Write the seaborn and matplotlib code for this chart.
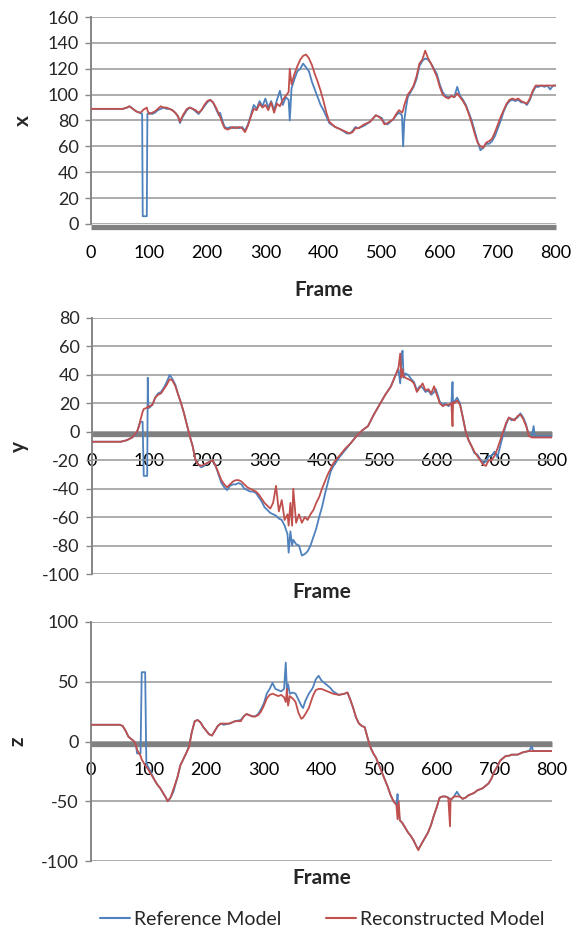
import matplotlib
matplotlib.use("Agg")
import matplotlib.pyplot as plt
import matplotlib.transforms as mtransforms
from matplotlib.lines import Line2D
import numpy as np
import pandas as pd
import seaborn as sns

# ---- data ----
series_names = ["Reference Model", "Reconstructed Model"]
series_colors = ["#4F81BD", "#C0504D"]

# x coordinate
frames_x = [0, 20, 40, 55, 62, 66, 72, 78, 84, 88,
            89, 96, 97, 100, 105, 110, 115, 120, 125, 130,
            135, 140, 145, 150, 153, 158, 165, 170, 175, 180,
            185, 190, 195, 200, 205, 210, 215, 220, 222, 226,
            230, 235, 240, 245, 250, 255, 260, 265, 270, 275,
            280, 285, 290, 295, 300, 305, 310, 315, 320, 325,
            330, 335, 340, 342, 345, 350, 355, 360, 365, 370,
            375, 380, 385, 390, 395, 400, 405, 410, 420, 430,
            440, 445, 450, 455, 460, 470, 480, 490, 495, 500,
            505, 510, 520, 525, 530, 535, 537, 539, 542, 545,
            550, 555, 560, 565, 570, 575, 580, 585, 590, 595,
            600, 605, 610, 615, 620, 625, 630, 635, 640, 645,
            650, 655, 660, 665, 670, 675, 680, 685, 690, 695,
            700, 705, 710, 715, 720, 725, 730, 735, 740, 745,
            750, 755, 760, 765, 770, 775, 780, 785, 790, 795,
            800]
ref_x = [89, 89, 89, 89, 90, 91, 89, 87, 86, 85,
         6, 6, 85, 86, 85, 86, 88, 89, 90, 89,
         89, 88, 86, 83, 78, 83, 88, 90, 89, 87,
         85, 88, 91, 94, 96, 94, 89, 84, 86, 80,
         75, 74, 75, 74, 75, 74, 75, 72, 77, 84,
         92, 89, 95, 91, 97, 90, 95, 88, 96, 103,
         92, 98, 96, 80, 105, 112, 118, 120, 124, 121,
         118, 110, 104, 98, 92, 88, 83, 78, 75, 73,
         70, 70, 72, 75, 74, 76, 79, 84, 83, 82,
         78, 77, 81, 84, 86, 84, 60, 80, 90, 98,
         102, 106, 112, 122, 126, 128, 127, 124, 120, 116,
         108, 102, 99, 98, 99, 98, 106, 99, 96, 92,
         86, 80, 72, 64, 57, 59, 62, 62, 64, 68,
         74, 80, 87, 92, 95, 96, 95, 96, 94, 94,
         92, 96, 102, 106, 106, 107, 106, 107, 104, 107,
         107]
rec_x = [89, 89, 89, 89, 90, 91, 89, 87, 86, 87,
         88, 90, 88, 85, 86, 87, 89, 91, 90, 90,
         89, 88, 86, 83, 79, 84, 89, 90, 89, 88,
         86, 88, 92, 95, 96, 94, 90, 85, 83, 78,
         74, 73, 74, 75, 74, 75, 74, 71, 76, 83,
         89, 88, 93, 90, 92, 88, 94, 86, 93, 91,
         96, 99, 102, 120, 108, 116, 122, 127, 130, 131,
         128, 123, 116, 110, 103, 95, 86, 79, 75, 73,
         71, 70, 71, 74, 74, 77, 79, 84, 83, 81,
         77, 78, 81, 85, 88, 86, 88, 92, 96, 100,
         103, 107, 114, 124, 127, 134, 128, 124, 119, 114,
         106, 100, 98, 97, 99, 98, 101, 98, 95, 91,
         85, 78, 70, 63, 60, 59, 63, 64, 66, 71,
         77, 83, 88, 93, 96, 97, 96, 97, 95, 94,
         93, 97, 103, 107, 107, 107, 107, 107, 107, 107,
         107]

# y coordinate
frames_y = [0, 20, 40, 50, 60, 70, 78, 82, 84, 88,
            90, 96, 97, 98, 100, 105, 110, 115, 120, 125,
            130, 135, 140, 145, 150, 155, 160, 165, 170, 175,
            180, 185, 190, 195, 200, 205, 210, 215, 220, 225,
            230, 235, 240, 245, 250, 255, 260, 265, 270, 275,
            280, 285, 290, 295, 300, 305, 310, 315, 320, 325,
            330, 335, 340, 342, 345, 348, 350, 355, 360, 365,
            370, 375, 380, 385, 390, 395, 400, 405, 410, 415,
            420, 430, 440, 450, 460, 470, 480, 490, 500, 510,
            520, 528, 533, 536, 538, 540, 542, 545, 550, 555,
            560, 565, 570, 575, 580, 585, 590, 595, 598, 605,
            610, 615, 620, 625, 627, 628, 630, 635, 640, 645,
            650, 655, 660, 665, 670, 675, 680, 685, 690, 695,
            700, 705, 710, 715, 720, 725, 730, 735, 740, 745,
            750, 755, 760, 765, 768, 770, 780, 790, 800]
ref_y = [-7, -7, -7, -7, -6, -4, -1, 5, 7, 7,
         -31, -31, 38, 17, 17, 19, 24, 27, 28, 31,
         35, 40, 37, 33, 26, 20, 13, 5, -3, -10,
         -20, -23, -25, -24, -22, -21, -20, -24, -30, -36,
         -39, -41, -38, -37, -37, -36, -37, -40, -41, -42,
         -42, -43, -46, -49, -53, -55, -57, -58, -59, -61,
         -62, -66, -72, -85, -70, -80, -76, -79, -80, -87,
         -86, -84, -80, -74, -68, -60, -53, -44, -36, -28,
         -24, -18, -13, -8, -3, 1, 4, 12, 19, 26,
         32, 40, 44, 34, 50, 57, 38, 41, 40, 37,
         35, 29, 32, 31, 28, 29, 26, 28, 30, 21,
         19, 20, 18, 20, 35, 20, 21, 24, 20, 10,
         0, -6, -10, -15, -16, -19, -22, -21, -17, -17,
         -14, -18, -10, -2, 5, 10, 8, 9, 10, 13,
         10, 5, -3, -3, 4, -3, -3, -3, -3]
rec_y = [-7, -7, -7, -7, -6, -4, 0, 4, 8, 14,
         16, 17, 18, 17, 18, 19, 24, 26, 27, 30,
         33, 37, 36, 32, 26, 20, 13, 5, -3, -10,
         -20, -23, -24, -23, -22, -21, -20, -24, -29, -34,
         -37, -39, -37, -35, -34, -34, -35, -37, -39, -40,
         -41, -42, -44, -47, -50, -52, -54, -50, -38, -56,
         -48, -62, -58, -66, -50, -66, -40, -64, -58, -64,
         -60, -62, -58, -55, -50, -46, -40, -35, -30, -26,
         -22, -17, -12, -8, -3, 1, 4, 12, 19, 26,
         32, 40, 45, 55, 38, 44, 39, 38, 37, 36,
         34, 28, 31, 34, 29, 30, 27, 32, 28, 20,
         18, 19, 19, 20, 4, 21, 20, 22, 19, 10,
         0, -6, -10, -14, -17, -20, -23, -24, -20, -20,
         -17, -12, -6, 0, 6, 10, 9, 8, 11, 12,
         9, 4, -3, -4, -4, -4, -4, -4, -4]

# z coordinate
frames_z = [0, 20, 40, 50, 55, 60, 65, 70, 75, 78,
            80, 86, 88, 94, 96, 100, 105, 110, 115, 120,
            125, 130, 133, 138, 143, 150, 155, 160, 165, 170,
            175, 180, 185, 190, 195, 200, 205, 210, 215, 220,
            225, 230, 240, 250, 260, 265, 270, 275, 280, 285,
            290, 295, 300, 305, 310, 315, 320, 325, 330, 335,
            338, 340, 342, 345, 350, 355, 360, 365, 368, 372,
            378, 385, 390, 395, 400, 405, 410, 415, 420, 430,
            440, 445, 450, 455, 460, 465, 470, 475, 480, 485,
            490, 495, 500, 505, 510, 515, 520, 525, 530, 532,
            534, 536, 540, 545, 550, 555, 560, 565, 568, 572,
            578, 585, 590, 595, 600, 605, 610, 615, 620, 623,
            624, 626, 630, 635, 640, 645, 650, 655, 660, 665,
            670, 675, 680, 685, 690, 695, 700, 705, 710, 715,
            720, 725, 730, 740, 750, 760, 765, 767, 770, 780,
            790, 800]
ref_z = [14, 14, 14, 14, 13, 9, 4, 2, 0, -3,
         -10, -10, 58, 58, -18, -22, -27, -32, -36, -39,
         -43, -47, -50, -47, -42, -30, -20, -15, -10, -4,
         8, 17, 18, 16, 12, 9, 6, 5, 9, 13,
         15, 14, 15, 17, 18, 21, 23, 22, 21, 21,
         23, 27, 32, 40, 44, 49, 44, 43, 42, 44,
         66, 42, 48, 40, 41, 40, 35, 30, 28, 34,
         40, 45, 52, 55, 51, 49, 47, 45, 42, 39,
         40, 41, 35, 28, 20, 15, 13, 12, 3, -5,
         -10, -14, -20, -26, -32, -38, -45, -50, -53, -44,
         -60, -66, -68, -72, -76, -79, -83, -88, -90, -87,
         -82, -76, -70, -62, -55, -47, -46, -46, -47, -48,
         -48, -48, -46, -42, -46, -48, -47, -45, -44, -43,
         -41, -40, -39, -37, -35, -31, -25, -21, -16, -14,
         -12, -12, -11, -11, -9, -8, -4, -8, -8, -8,
         -8, -8]
rec_z = [14, 14, 14, 14, 13, 9, 4, 2, 0, -3,
         -7, -12, -15, -20, -21, -24, -28, -32, -36, -39,
         -43, -47, -50, -47, -40, -30, -20, -15, -10, -5,
         8, 17, 18, 16, 12, 9, 6, 5, 9, 13,
         15, 15, 15, 17, 17, 21, 23, 22, 21, 21,
         22, 25, 30, 36, 39, 40, 39, 38, 39, 37,
         33, 44, 30, 38, 36, 33, 24, 19, 20, 23,
         28, 38, 43, 44, 44, 43, 42, 41, 40, 39,
         40, 41, 35, 28, 20, 15, 13, 12, 3, -5,
         -10, -14, -20, -26, -32, -38, -45, -50, -53, -65,
         -50, -66, -68, -72, -76, -79, -83, -88, -91, -87,
         -82, -76, -70, -62, -55, -47, -46, -46, -47, -71,
         -48, -48, -46, -46, -46, -48, -47, -45, -44, -43,
         -41, -40, -39, -37, -35, -31, -25, -21, -16, -14,
         -12, -12, -11, -11, -9, -8, -8, -8, -8, -8,
         -8, -8]

frame_ticks = list(range(0, 801, 100))
x_ticks = list(range(0, 161, 20))
y_ticks = list(range(-100, 81, 20))
z_ticks = [-100, -50, 0, 50, 100]

sns.set_theme(style="white")
plt.rcParams['font.family'] = ['Lato', 'DejaVu Sans']

GRID = "#a6a6a6"
AXIS = "#868686"


def long_form(frames, ref, rec):
    assert len(frames) == len(ref) == len(rec), (len(frames), len(ref), len(rec))
    return pd.concat([
        pd.DataFrame({"frame": frames, "value": ref, "model": series_names[0]}),
        pd.DataFrame({"frame": frames, "value": rec, "model": series_names[1]}),
    ], ignore_index=True)


def draw_panel(ax, df, label, yticks, xlabel_y, ylabel_x):
    sns.lineplot(data=df, x="frame", y="value", hue="model", hue_order=series_names,
                 palette=series_colors, estimator=None, linewidth=1.3, legend=False,
                 ax=ax, zorder=3)
    ax.set_xlim(0, 800)
    ax.set_ylim(yticks[0], yticks[-1])
    ax.set_xticks(frame_ticks)
    ax.set_yticks(yticks)
    ax.set_yticklabels([str(t) for t in yticks])
    ax.yaxis.grid(True, color=GRID, linewidth=1.3)
    ax.set_axisbelow(True)
    for side in ("top", "right"):
        ax.spines[side].set_visible(False)
    ax.spines["left"].set_color(AXIS)
    ax.spines["left"].set_linewidth(1.4)
    # category axis sits at zero, drawn as a thick grey band
    ax.spines["bottom"].set_position(("data", 0))
    ax.spines["bottom"].set_color("none")
    band = ax.get_yaxis_transform() + mtransforms.ScaledTranslation(0, -2.6 / 100, ax.figure.dpi_scale_trans)
    ax.plot([0, 1], [0, 0], transform=band, color="#808080", linewidth=3.8,
            solid_capstyle="butt", clip_on=False, zorder=2)
    ax.tick_params(axis="x", length=0, pad=15, labelsize=13, colors="black")
    ax.tick_params(axis="y", length=4, width=1, color=AXIS, pad=5, labelsize=13, left=True)
    ax.set_xlabel("Frame", fontsize=15, fontweight="bold", va="center")
    ax.xaxis.set_label_coords(0.5, xlabel_y)
    ax.set_ylabel(label, fontsize=15, fontweight="bold", va="center", ha="center")
    ax.yaxis.set_label_coords(ylabel_x, 0.5)


fig = plt.figure(figsize=(5.78, 9.30), dpi=100)
ax1 = fig.add_axes([91 / 578, 1 - 224 / 930, 465 / 578, 207 / 930])
ax2 = fig.add_axes([92 / 578, 1 - 574 / 930, 460 / 578, 256 / 930])
ax3 = fig.add_axes([91 / 578, 1 - 861 / 930, 461 / 578, 239 / 930])

draw_panel(ax1, long_form(frames_x, ref_x, rec_x), "x", x_ticks, -66 / 207, -0.146)
draw_panel(ax2, long_form(frames_y, ref_y, rec_y), "y", y_ticks, -18 / 256, -0.159)
draw_panel(ax3, long_form(frames_z, ref_z, rec_z), "z", z_ticks, -17 / 239, -0.16)

handles = [Line2D([], [], color=c, linewidth=1.5) for c in series_colors]
fig.legend(handles, series_names, loc="center", bbox_to_anchor=(322 / 578, 1 - 919 / 930),
           ncol=2, frameon=False, fontsize=14, handlelength=1.55, handletextpad=0.2,
           columnspacing=2.3)

fig.savefig("out.png", dpi=100)
